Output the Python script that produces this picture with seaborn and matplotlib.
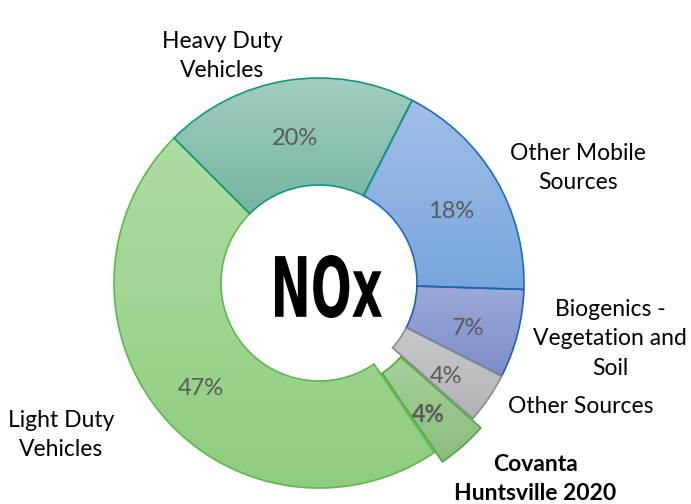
import numpy as np
import matplotlib
matplotlib.use("Agg")
import matplotlib.pyplot as plt
import seaborn as sns
from matplotlib.colors import LinearSegmentedColormap
from matplotlib.textpath import TextPath
from matplotlib.font_manager import FontProperties
from matplotlib.patches import PathPatch
from matplotlib.transforms import Affine2D

# dados (sentido horário a partir do topo)
fontes = ["Other Mobile\nSources", "Biogenics -\nVegetation and\nSoil", "Other Sources",
          "Covanta\nHuntsville 2020", "Light Duty\nVehicles", "Heavy Duty\nVehicles"]
percentuais = [18, 7, 4, 4, 47, 20]
destaque = [0, 0, 0, 0.06, 0, 0]

cor_topo = ["#a2bfe9", "#9ca9d9", "#c9c9cd", "#a6d099", "#aedca3", "#a1cec0"]
cor_base = ["#77a5dc", "#7c8dc8", "#b3b3b7", "#8bbd7d", "#8fcd80", "#77b4a2"]
cor_borda = ["#1c6cb5", "#1f62b0", "#8a8a8a", "#4ea83f", "#5cb84a", "#12977f"]

# posições (pixels da imagem) dos rótulos externos
pos_rotulos = [(578, 168), (610, 339), (581, 407), (535, 479), (61, 435), (222, 56)]

W, H = 691, 504
CX, CY, R = 319, 283, 205


def px(x, y):
    return (x - CX) / R, (CY - y) / R


sns.set_theme(style="white")
plt.rcParams["font.family"] = ["Lato", "DejaVu Sans"]

fig = plt.figure(figsize=(W / 100, H / 100), dpi=100)
ax = fig.add_axes([0, 0, 1, 1])

wedges, _, autotexts = ax.pie(
    percentuais, startangle=63, counterclock=False, radius=1, explode=destaque,
    autopct="%.0f%%", pctdistance=0.75,
    wedgeprops=dict(width=107 / R, linewidth=1.2),
    textprops=dict(color="#595959", fontsize=17),
)

# preenchimento em degradê vertical, como no Excel
for w, c1, c2, ce in zip(wedges, cor_topo, cor_base, cor_borda):
    ext = w.get_path().get_extents()
    cmap = LinearSegmentedColormap.from_list("", [c2, c1])
    img = ax.imshow(np.linspace(0, 1, 256).reshape(-1, 1), cmap=cmap, origin="lower",
                    extent=[ext.x0, ext.x1, ext.y0, ext.y1], aspect="auto", zorder=1)
    img.set_clip_path(w)
    w.set_facecolor("none")
    w.set_edgecolor(ce)
    w.set_zorder(2)

for t in autotexts:
    t.set_zorder(3)
    x, y = t.get_position()
    t.set_position((x, y - 7 / R))
autotexts[3].set_fontweight("bold")

for nome, (x, y) in zip(fontes, pos_rotulos):
    bold = "Covanta" in nome
    ax.text(*px(x, y), nome, ha="center", va="center", fontsize=16.5, color="black",
            linespacing=1.5, fontweight="bold" if bold else "normal")

# texto central "NOx" condensado
tp = TextPath((0, 0), "NOx", prop=FontProperties(family="DejaVu Sans", weight="bold"))
e = tp.get_extents()
x0, y0 = px(275, 318)
x1, y1 = px(382, 255)
tr = Affine2D().translate(-e.x0, -e.y0).scale((x1 - x0) / e.width, (y1 - y0) / e.height).translate(x0, y0)
ax.add_patch(PathPatch(tr.transform_path(tp), facecolor="black", edgecolor="none", zorder=4))

ax.set_xlim(-CX / R, (W - CX) / R)
ax.set_ylim(-(H - CY) / R, CY / R)
ax.set_aspect("equal")
ax.axis("off")

fig.savefig("out.png", dpi=100)
